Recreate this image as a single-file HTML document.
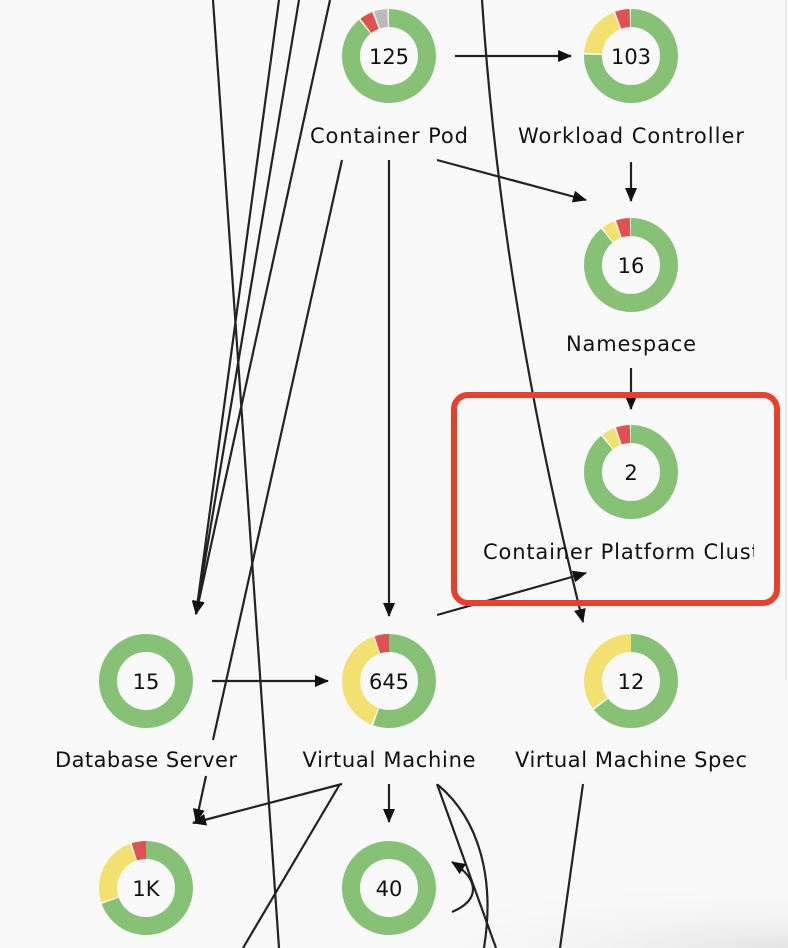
<!DOCTYPE html>
<html><head><meta charset="utf-8"><style>
html,body{margin:0;padding:0;background:#f9f9f9;}
svg{display:block}
text{font-family:"DejaVu Sans","Liberation Sans",sans-serif;fill:#111;}
</style></head><body>
<svg width="788" height="948" viewBox="0 0 788 948" xmlns="http://www.w3.org/2000/svg">
<defs>
<marker id="a" markerWidth="14" markerHeight="14" refX="13" refY="6" orient="auto" markerUnits="userSpaceOnUse" viewBox="0 0 14 12"><path d="M0,0 L14,6 L0,12 z" fill="#111"/></marker>
<radialGradient id="bg" cx="1" cy="1" r="1"><stop offset="0" stop-color="#e4e4e4"/><stop offset="1" stop-color="#f9f9f9" stop-opacity="0"/></radialGradient>
<clipPath id="cl"><rect x="454" y="395" width="300" height="208"/></clipPath>
</defs>
<rect x="340" y="880" width="448" height="68" fill="url(#bg)"/>
<line x1="786" y1="0" x2="786" y2="680" stroke="#ddd" stroke-width="1"/>
<g stroke="#222" stroke-width="2.2" fill="none">
<line x1="213" y1="0" x2="279" y2="948"/>
<line x1="279" y1="0" x2="196" y2="614" marker-end="url(#a)"/>
<line x1="299" y1="0" x2="196" y2="614" marker-end="url(#a)"/>
<line x1="330" y1="0" x2="196" y2="614" marker-end="url(#a)"/>
<line x1="342" y1="160" x2="213" y2="740"/>
<line x1="206" y1="776" x2="196" y2="822" marker-end="url(#a)"/>
<line x1="455" y1="56" x2="571" y2="56" marker-end="url(#a)"/>
<line x1="437" y1="160" x2="586" y2="200" marker-end="url(#a)"/>
<line x1="389" y1="160" x2="389" y2="616" marker-end="url(#a)"/>
<line x1="631" y1="162" x2="631" y2="201" marker-end="url(#a)"/>
<line x1="631" y1="368" x2="631" y2="409" marker-end="url(#a)"/>
<path d="M482,0 C490,120 510,330 583,622" marker-end="url(#a)"/>
<line x1="437" y1="615" x2="586" y2="573" marker-end="url(#a)"/>
<line x1="212" y1="681" x2="328" y2="681" marker-end="url(#a)"/>
<line x1="389" y1="784" x2="389" y2="822" marker-end="url(#a)"/>
<line x1="342" y1="784" x2="193" y2="823" marker-end="url(#a)"/>
<line x1="340" y1="784" x2="243" y2="948"/>
<line x1="437" y1="784" x2="496" y2="948"/>
<path d="M438,785 C480,820 495,880 484,948"/>
<path d="M452,912 C480,900 480,880 452,862" marker-end="url(#a)"/>
<line x1="583" y1="784" x2="560" y2="948"/>
</g>
<rect x="454" y="395" width="323" height="208" rx="14" fill="none" stroke="#e8402a" stroke-width="6"/>
<g fill="none" stroke-width="18">
<g transform="translate(389,56) rotate(-90)"><circle r="38" stroke="#86c176" pathLength="100" stroke-dasharray="89 11"/><circle r="38" stroke="#e05252" pathLength="100" stroke-dasharray="0 89.6 4.6 100"/><circle r="38" stroke="#bbb" pathLength="100" stroke-dasharray="0 94.8 4.6 100"/></g>
<g transform="translate(631,56) rotate(-90)"><circle r="38" stroke="#86c176" pathLength="100" stroke-dasharray="75.5 24.5"/><circle r="38" stroke="#f2e070" pathLength="100" stroke-dasharray="0 76.1 17.8 100"/><circle r="38" stroke="#e05252" pathLength="100" stroke-dasharray="0 94.5 5 100"/></g>
<g transform="translate(631,265) rotate(-90)"><circle r="38" stroke="#86c176" pathLength="100" stroke-dasharray="89 11"/><circle r="38" stroke="#f2e070" pathLength="100" stroke-dasharray="0 89.6 4.6 100"/><circle r="38" stroke="#e05252" pathLength="100" stroke-dasharray="0 94.8 4.8 100"/></g>
<g transform="translate(631,472) rotate(-90)"><circle r="38" stroke="#86c176" pathLength="100" stroke-dasharray="89 11"/><circle r="38" stroke="#f2e070" pathLength="100" stroke-dasharray="0 89.6 4.6 100"/><circle r="38" stroke="#e05252" pathLength="100" stroke-dasharray="0 94.8 4.8 100"/></g>
<g transform="translate(146,681)"><circle r="38" stroke="#86c176"/></g>
<g transform="translate(389,681) rotate(-90)"><circle r="38" stroke="#86c176" pathLength="100" stroke-dasharray="55.5 44.5"/><circle r="38" stroke="#f2e070" pathLength="100" stroke-dasharray="0 56.1 38.4 100"/><circle r="38" stroke="#e05252" pathLength="100" stroke-dasharray="0 95 5 100"/></g>
<g transform="translate(631,681) rotate(-90)"><circle r="38" stroke="#86c176" pathLength="100" stroke-dasharray="64.5 35.5"/><circle r="38" stroke="#f2e070" pathLength="100" stroke-dasharray="0 65.1 34.9 100"/></g>
<g transform="translate(146,888) rotate(-90)"><circle r="38" stroke="#86c176" pathLength="100" stroke-dasharray="69.5 30.5"/><circle r="38" stroke="#f2e070" pathLength="100" stroke-dasharray="0 70.1 24.4 100"/><circle r="38" stroke="#e05252" pathLength="100" stroke-dasharray="0 95 5 100"/></g>
<g transform="translate(389,888)"><circle r="38" stroke="#86c176"/></g>
</g>
<g font-size="21" text-anchor="middle">
<text x="389" y="64">125</text>
<text x="631" y="64">103</text>
<text x="631" y="273">16</text>
<text x="631" y="480">2</text>
<text x="146" y="689">15</text>
<text x="389" y="689">645</text>
<text x="631" y="689">12</text>
<text x="146" y="896">1K</text>
<text x="389" y="896">40</text>
<text x="389" y="143" textLength="158">Container Pod</text>
<text x="631" y="143" textLength="226">Workload Controller</text>
<text x="631" y="351" textLength="130">Namespace</text>
<text x="146" y="767" textLength="182">Database Server</text>
<text x="389" y="767" textLength="173">Virtual Machine</text>
<text x="631" y="767" textLength="232">Virtual Machine Spec</text>
</g>
<g clip-path="url(#cl)"><text x="483" y="559" font-size="21" textLength="300">Container Platform Cluster</text></g>
</svg>
</body></html>
